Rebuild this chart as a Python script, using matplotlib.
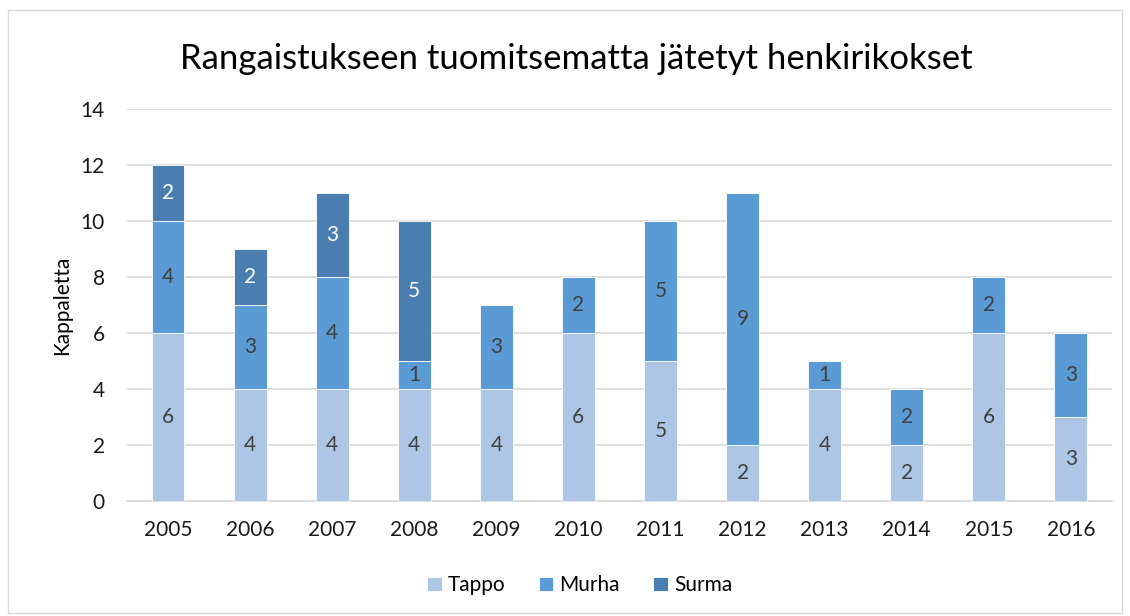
import numpy as np
import matplotlib.pyplot as plt
from matplotlib.patches import Rectangle

plt.rcParams['font.family'] = ['Lato', 'DejaVu Sans']

years = ['2005', '2006', '2007', '2008', '2009', '2010', '2011', '2012', '2013', '2014', '2015', '2016']
tappo = [6, 4, 4, 4, 4, 6, 5, 2, 4, 2, 6, 3]
murha = [4, 3, 4, 1, 3, 2, 5, 9, 1, 2, 2, 3]
surma = [2, 2, 3, 5, 0, 0, 0, 0, 0, 0, 0, 0]

series = [('Tappo', tappo, '#ADC6E5', '#404040'),
          ('Murha', murha, '#5B9BD5', '#404040'),
          ('Surma', surma, '#4A7EB0', 'white')]

fig = plt.figure(figsize=(11.3, 6.16), dpi=100)
ax = fig.add_axes([0.1124, 0.1867, 0.8716, 0.6364])

x = np.arange(len(years))
bottom = np.zeros(len(years))
for name, vals, col, tcol in series:
    vals = np.array(vals)
    ax.bar(x, vals, 0.4, bottom=bottom, color=col, edgecolor='white', linewidth=0.6, label=name, zorder=3)
    for xi, b, v in zip(x, bottom, vals):
        if v > 0:
            ax.text(xi, b + v / 2, str(v), ha='center', va='center', fontsize=15, color=tcol, zorder=4)
    bottom = bottom + vals

ax.set_xlim(-0.5, len(years) - 0.5)
ax.set_ylim(0, 14)
ax.set_yticks(np.arange(0, 15, 2))
ax.set_xticks(x)
ax.set_xticklabels(years)
ax.tick_params(axis='both', length=0, labelsize=15, colors='#1a1a1a')
ax.tick_params(axis='y', pad=16)
ax.tick_params(axis='x', pad=14)
ax.yaxis.grid(True, color='#D9D9D9', linewidth=1.2, zorder=0)
for s in ['top', 'right', 'left']:
    ax.spines[s].set_visible(False)
ax.spines['bottom'].set_color('#D9D9D9')
ax.spines['bottom'].set_linewidth(1.2)
ax.set_ylabel('Kappaletta', fontsize=15, labelpad=6)

fig.text(0.51, 0.905, 'Rangaistukseen tuomitsematta jätetyt henkirikokset', ha='center', va='center', fontsize=25)
fig.legend(loc='center', bbox_to_anchor=(0.513, 0.05), ncol=3, frameon=False, fontsize=15,
           handlelength=0.7, handleheight=0.7, handletextpad=0.3, columnspacing=1.6)

fig.patches.append(Rectangle((0.007, 0.005), 0.986, 0.979, transform=fig.transFigure,
                             fill=False, edgecolor='#D9D9D9', linewidth=1))

fig.savefig('out.png', dpi=100)
